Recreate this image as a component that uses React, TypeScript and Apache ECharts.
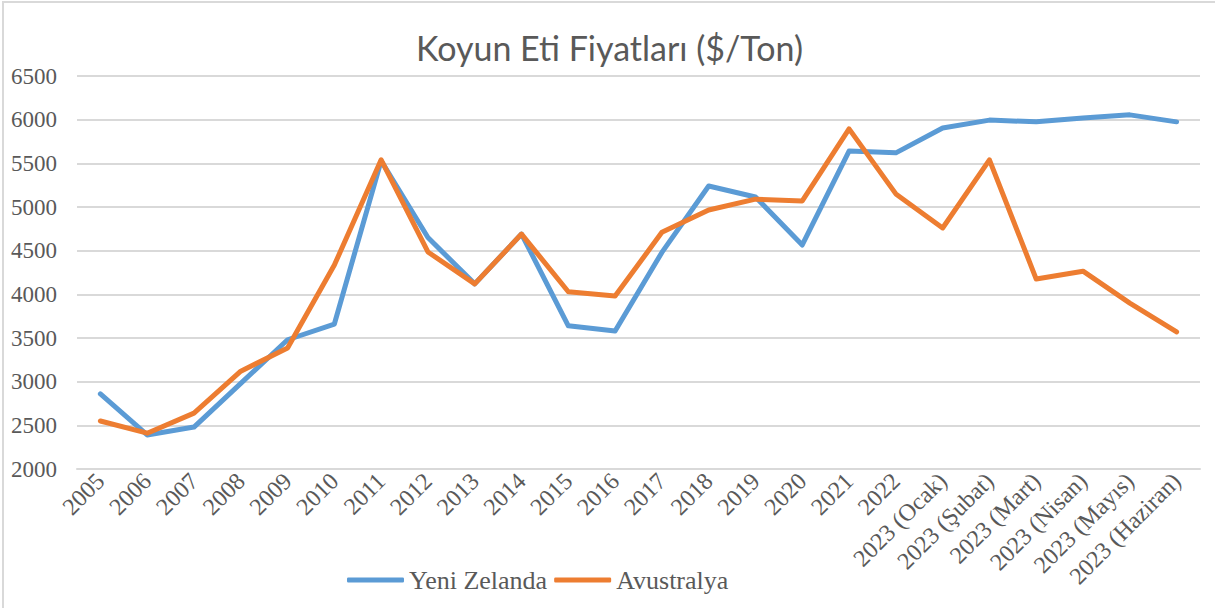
import React, { useEffect, useRef } from "react";
import * as echarts from "echarts";

const categories = [
  "2005", "2006", "2007", "2008", "2009", "2010", "2011", "2012", "2013", "2014",
  "2015", "2016", "2017", "2018", "2019", "2020", "2021", "2022",
  "2023 (Ocak)", "2023 (Şubat)", "2023 (Mart)", "2023 (Nisan)", "2023 (Mayıs)", "2023 (Haziran)",
];

const yeniZelanda = [
  2860, 2390, 2480, 2980, 3480, 3660, 5530, 4650, 4120, 4690,
  3640, 3580, 4480, 5240, 5115, 4565, 5640, 5620,
  5905, 5995, 5975, 6020, 6055, 5975,
];

const avustralya = [
  2550, 2410, 2640, 3120, 3385, 4335, 5540, 4485, 4120, 4690,
  4030, 3980, 4710, 4965, 5090, 5070, 5895, 5150,
  4760, 5540, 4175, 4265, 3900, 3570,
];

const seriesNames = ["Yeni Zelanda", "Avustralya"];
const titleText = "Koyun Eti Fiyatları ($/Ton)";

export default function App() {
  const ref = useRef<HTMLDivElement>(null);
  useEffect(() => {
    if (!ref.current) return;
    const chart = echarts.init(ref.current, null, { renderer: "svg" });
    const serif = "Liberation Serif";
    chart.setOption({
      animation: false,
      backgroundColor: "#ffffff",
      textStyle: { fontFamily: serif },
      title: {
        text: titleText,
        left: "center",
        top: 22,
        textStyle: {
          fontFamily: "Lato",
          fontSize: 34,
          fontWeight: "normal",
          color: "#595959",
        },
      },
      legend: {
        top: 559,
        left: 338,
        itemWidth: 57,
        itemHeight: 5,
        itemGap: 7,
        icon: "roundRect",
        textStyle: { fontFamily: serif, fontSize: 26, color: "#595959" },
        data: seriesNames,
      },
      grid: { left: 73, right: 15, top: 73, bottom: 139, containLabel: false },
      xAxis: {
        type: "category",
        data: categories,
        boundaryGap: true,
        axisLine: { lineStyle: { color: "#d9d9d9", width: 2 } },
        axisTick: { show: false },
        axisLabel: {
          rotate: 45,
          interval: 0,
          margin: 8,
          fontFamily: serif,
          fontSize: 24,
          color: "#595959",
        },
      },
      yAxis: {
        type: "value",
        min: 2000,
        max: 6500,
        interval: 500,
        axisLine: { show: false },
        axisTick: { show: false },
        splitLine: { lineStyle: { color: "#d9d9d9", width: 2 } },
        axisLabel: {
          fontFamily: serif,
          fontSize: 23,
          color: "#595959",
          margin: 20,
          formatter: (v: number) => String(v),
        },
      },
      series: [
        {
          name: seriesNames[0],
          type: "line",
          data: yeniZelanda,
          symbol: "none",
          lineStyle: { width: 5, color: "#5B9BD5", cap: "round", join: "round" },
          itemStyle: { color: "#5B9BD5" },
        },
        {
          name: seriesNames[1],
          type: "line",
          data: avustralya,
          symbol: "none",
          lineStyle: { width: 5, color: "#ED7D31", cap: "round", join: "round" },
          itemStyle: { color: "#ED7D31" },
        },
      ],
    });
    return () => chart.dispose();
  }, []);
  return (
    <div
      style={{
        position: "fixed",
        left: 0,
        top: 0,
        width: 1215,
        height: 608,
        background: "#fff",
      }}
    >
      <div
        style={{
          position: "absolute",
          left: 2,
          top: 1,
          width: 1215,
          height: 610,
          border: "2px solid #d9d9d9",
          boxSizing: "border-box",
        }}
      />
      <div ref={ref} style={{ position: "absolute", left: 4, top: 3, width: 1211, height: 605 }} />
    </div>
  );
}
